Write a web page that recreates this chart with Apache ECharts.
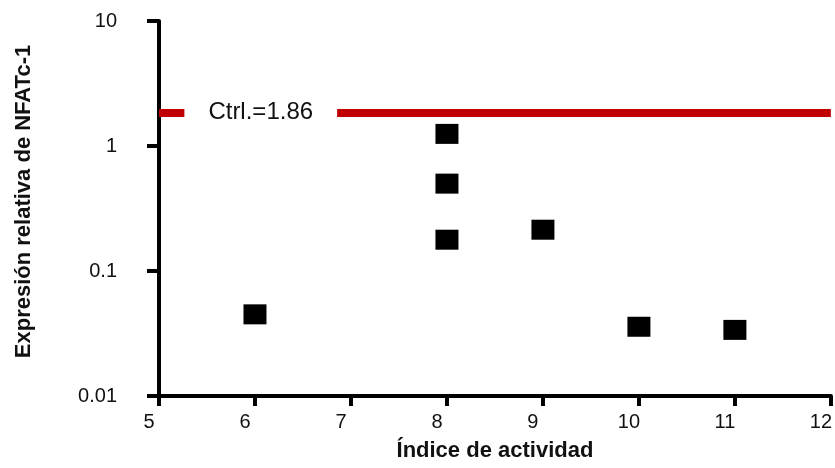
<!DOCTYPE html>
<html>
<head>
<meta charset="utf-8">
<script src="https://cdn.jsdelivr.net/npm/echarts@6/dist/echarts.min.js"></script>
<style>html,body{margin:0;padding:0;background:#fff}#c{width:835px;height:468px}</style>
</head>
<body>
<div id="c"></div>
<script>
const activityIndex = [6, 8, 8, 8, 9, 10, 11];
const nfatExpression = [0.045, 1.25, 0.5, 0.178, 0.214, 0.0358, 0.0338];
const ctrlValue = 1.86;
const ctrlLabel = 'Ctrl.=1.86';
const ctrlLabelX = 6.06;
const xTicks = [5, 6, 7, 8, 9, 10, 11, 12];
const yTicks = [0.01, 0.1, 1, 10];

const FONT = 'Liberation Sans, Arial, sans-serif';
const chart = echarts.init(document.getElementById('c'));
chart.setOption({
  animation: false,
  grid: { left: 159, right: 4, top: 21, bottom: 72, containLabel: false },
  xAxis: {
    type: 'value', min: xTicks[0], max: xTicks[xTicks.length - 1], interval: 1,
    name: 'Índice de actividad', nameLocation: 'middle', nameGap: 44,
    nameTextStyle: { fontFamily: FONT, fontWeight: 'bold', fontSize: 22, color: '#111' },
    axisLine: { lineStyle: { color: '#000', width: 4 } },
    axisTick: { show: true, length: 10, lineStyle: { color: '#000', width: 4 } },
    axisLabel: { fontFamily: FONT, fontSize: 20, color: '#111', margin: 16, padding: [0, 20, 0, 0] },
    splitLine: { show: false }
  },
  yAxis: {
    type: 'log', logBase: 10, min: yTicks[0], max: yTicks[yTicks.length - 1],
    name: 'Expresión relativa de NFATc-1', nameLocation: 'middle', nameGap: 124,
    nameTextStyle: { fontFamily: FONT, fontWeight: 'bold', fontSize: 22, color: '#111', padding: [0, 0, 0, 14] },
    axisLine: { show: true, lineStyle: { color: '#000', width: 4 } },
    axisTick: { show: true, length: 12, lineStyle: { color: '#000', width: 4 } },
    minorTick: { show: false },
    axisLabel: { fontFamily: FONT, fontSize: 20, color: '#111', margin: 42,
      formatter: v => String(parseFloat(v.toPrecision(3))) },
    splitLine: { show: false }
  },
  series: [
    {
      type: 'scatter', z: 3,
      symbol: 'rect', symbolSize: [23, 20],
      itemStyle: { color: '#000', opacity: 1 },
      data: activityIndex.map((x, i) => [x, nfatExpression[i]]),
      markLine: {
        silent: true, symbol: 'none', z: 2,
        lineStyle: { color: '#C00000', width: 8, type: 'solid', opacity: 1 },
        label: { show: false },
        data: [{ yAxis: ctrlValue }]
      }
    },
    {
      type: 'scatter', z: 4, symbolSize: 0, silent: true,
      itemStyle: { opacity: 1 },
      data: [[ctrlLabelX, ctrlValue]],
      label: {
        show: true, position: 'inside', formatter: ctrlLabel, opacity: 1,
        fontFamily: FONT, fontSize: 24, color: '#111',
        backgroundColor: '#ffffff', padding: [2, 24, 0, 24]
      }
    }
  ]
});
</script>
</body>
</html>
